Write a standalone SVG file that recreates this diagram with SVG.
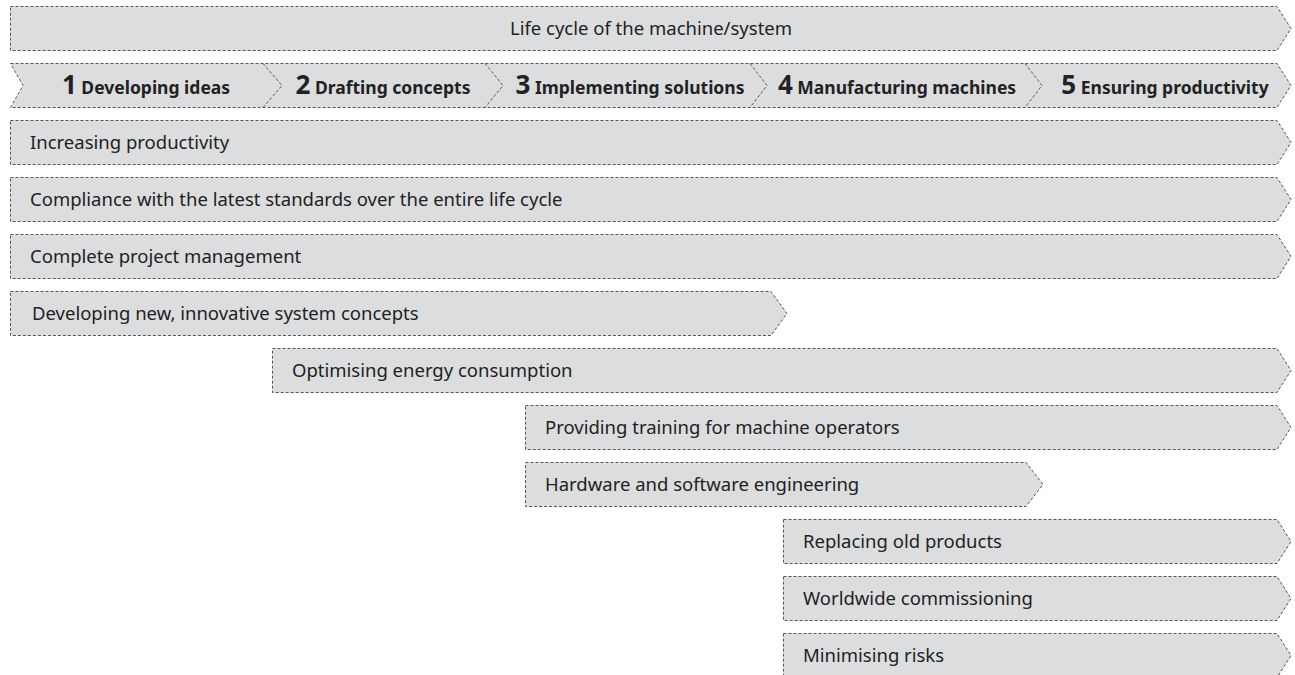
<svg xmlns="http://www.w3.org/2000/svg" width="1295" height="675" viewBox="0 0 1295 675">
<style>
.box{fill:#dcdddf;stroke:#555;stroke-width:1;stroke-dasharray:3 2}
.sep{fill:none;stroke:#555;stroke-width:1;stroke-dasharray:3 2}
.t{font-family:"Noto Sans","Open Sans",sans-serif;font-size:18.5px;fill:#222}
.p{font-family:"Noto Sans","Open Sans",sans-serif;font-size:17.5px;font-weight:bold;fill:#222}
.n{font-size:26px}
</style>
<rect width="1295" height="675" fill="#fff"/>
<g id="lifecycle">
<path class="box" d="M10.5,6.5 H1277 L1291,28.5 L1277,50.5 H10.5 Z"/>
<text class="t" x="651" y="35" text-anchor="middle">Life cycle of the machine/system</text>
</g>
<g id="phases">
<path class="box" d="M10.5,63.5 H1277 L1291,85.5 L1277,107.5 H10.5 L23,85.5 Z"/>
<polyline class="sep" points="263,63.5 282,85.5 263,107.5"/>
<polyline class="sep" points="485,63.5 503,85.5 485,107.5"/>
<polyline class="sep" points="750,63.5 767,85.5 750,107.5"/>
<polyline class="sep" points="1025,63.5 1042,85.5 1025,107.5"/>
<text class="p" x="146" y="94" text-anchor="middle"><tspan class="n">1</tspan> Developing ideas</text>
<text class="p" x="383" y="94" text-anchor="middle"><tspan class="n">2</tspan> Drafting concepts</text>
<text class="p" x="630" y="94" text-anchor="middle"><tspan class="n">3</tspan> Implementing solutions</text>
<text class="p" x="897" y="94" text-anchor="middle"><tspan class="n">4</tspan> Manufacturing machines</text>
<text class="p" x="1165" y="94" text-anchor="middle"><tspan class="n">5</tspan> Ensuring productivity</text>
</g>
<g id="r1">
<path class="box" d="M10.5,120.5 H1277 L1291,142.5 L1277,164.5 H10.5 Z"/>
<text class="t" x="30" y="149">Increasing productivity</text>
</g>
<g id="r2">
<path class="box" d="M10.5,177.5 H1277 L1291,199.5 L1277,221.5 H10.5 Z"/>
<text class="t" x="30" y="206">Compliance with the latest standards over the entire life cycle</text>
</g>
<g id="r3">
<path class="box" d="M10.5,234.5 H1277 L1291,256.5 L1277,278.5 H10.5 Z"/>
<text class="t" x="30" y="263">Complete project management</text>
</g>
<g id="r4">
<path class="box" d="M10.5,291.5 H771 L787,313.5 L771,335.5 H10.5 Z"/>
<text class="t" x="32" y="320">Developing new, innovative system concepts</text>
</g>
<g id="r5">
<path class="box" d="M272.5,348.5 H1277 L1291,370.5 L1277,392.5 H272.5 Z"/>
<text class="t" x="292" y="377">Optimising energy consumption</text>
</g>
<g id="r6">
<path class="box" d="M525.5,405.5 H1277 L1291,427.5 L1277,449.5 H525.5 Z"/>
<text class="t" x="545" y="434">Providing training for machine operators</text>
</g>
<g id="r7">
<path class="box" d="M525.5,462.5 H1026 L1043,484.5 L1026,506.5 H525.5 Z"/>
<text class="t" x="545" y="491">Hardware and software engineering</text>
</g>
<g id="r8">
<path class="box" d="M783.5,519.5 H1277 L1291,541.5 L1277,563.5 H783.5 Z"/>
<text class="t" x="803" y="548">Replacing old products</text>
</g>
<g id="r9">
<path class="box" d="M783.5,576.5 H1277 L1291,598.5 L1277,620.5 H783.5 Z"/>
<text class="t" x="803" y="605">Worldwide commissioning</text>
</g>
<g id="r10">
<path class="box" d="M783.5,633.5 H1277 L1291,655.5 L1277,677.5 H783.5 Z"/>
<text class="t" x="803" y="662">Minimising risks</text>
</g>
<g id="connectors"/>
</svg>
